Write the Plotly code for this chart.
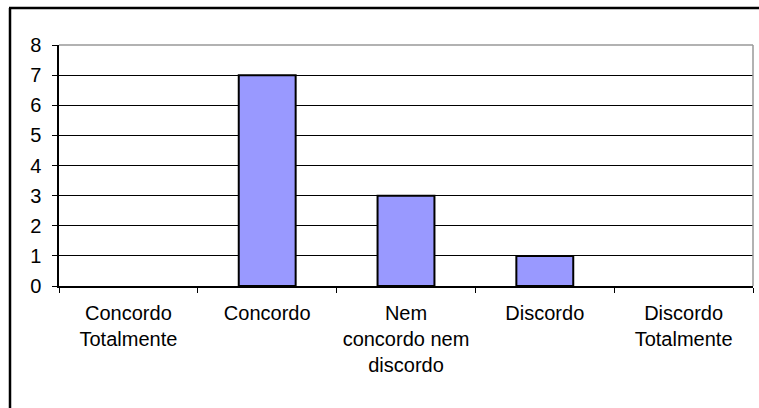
import plotly.graph_objects as go

categories = ["Concordo<br>Totalmente", "Concordo", "Nem<br>concordo nem<br>discordo", "Discordo", "Discordo<br>Totalmente"]
values = [0, 7, 3, 1, 0]
y_ticks = [0, 1, 2, 3, 4, 5, 6, 7, 8]

W, H = 759, 408
L, R, T, B = 59, 6, 45, 122
pw, ph = W - L - R, H - T - B

def px(x):
    return (x - L) / pw

def py(y):
    return (H - B - y) / ph

fig = go.Figure()
fig.add_trace(go.Bar(
    x=categories, y=values,
    marker=dict(color="#9999FF",
                line=dict(color="black", width=[2 if v > 0 else 0 for v in values])),
    showlegend=False,
))

fig.update_layout(
    width=W, height=H,
    margin=dict(l=L, r=R, t=T, b=B),
    paper_bgcolor="white", plot_bgcolor="white",
    font=dict(family="Liberation Sans, Arial, sans-serif", size=20, color="black"),
    bargap=0.59,
    xaxis=dict(
        type="category", tickson="boundaries", ticks="outside", ticklen=5,
        tickcolor="black", showline=True, linecolor="black", linewidth=1.5,
        showgrid=False, tickangle=0, ticklabelstandoff=8,
    ),
    yaxis=dict(
        range=[0, 8], tickvals=y_ticks, ticks="outside", ticklen=5,
        tickcolor="black", showline=True, linecolor="black", linewidth=1.5,
        showgrid=True, gridcolor="black", gridwidth=1, zeroline=False,
        ticklabelstandoff=7,
    ),
    shapes=[
        dict(type="line", xref="paper", yref="paper", x0=0, x1=1, y0=1, y1=1,
             line=dict(color="#999999", width=1.5), layer="above"),
        dict(type="line", xref="paper", yref="paper", x0=1, x1=1, y0=0, y1=1,
             line=dict(color="#999999", width=1.5), layer="above"),
        dict(type="line", xref="paper", yref="paper", x0=px(10), x1=px(10), y0=py(8), y1=py(420),
             line=dict(color="black", width=2.5), layer="above"),
        dict(type="line", xref="paper", yref="paper", x0=px(9), x1=px(770), y0=py(8), y1=py(8),
             line=dict(color="black", width=2.5), layer="above"),
    ],
)

fig.write_html("out.html")
